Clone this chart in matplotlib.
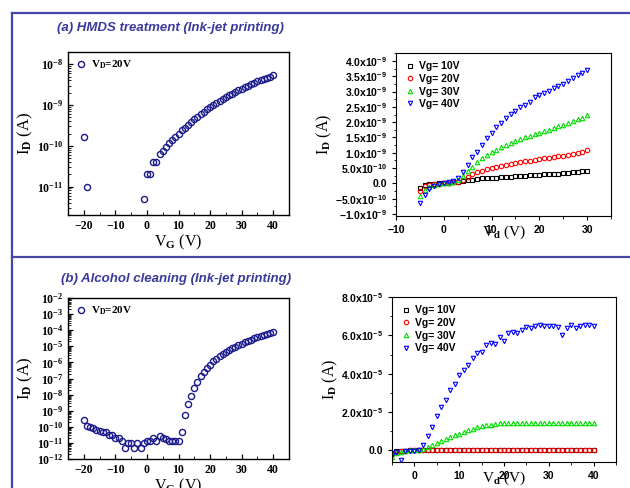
import numpy as np
import matplotlib
matplotlib.use("Agg")
import matplotlib.pyplot as plt
from matplotlib.lines import Line2D
from matplotlib.ticker import FuncFormatter, MultipleLocator, LogLocator, NullFormatter

plt.rcParams['font.family'] = ['Liberation Serif', 'DejaVu Serif']
plt.rcParams['font.weight'] = 'bold'
plt.rcParams['mathtext.fontset'] = 'custom'
plt.rcParams['mathtext.rm'] = 'Liberation Serif:bold'
plt.rcParams['mathtext.bf'] = 'Liberation Serif:bold'
plt.rcParams['mathtext.it'] = 'Liberation Serif:bold'
plt.rcParams['mathtext.sf'] = 'Liberation Sans:bold'

# ---- (a) HMDS treatment: transfer curve, VD = 20 V
vg_a = [-20, -19, -1, 0, 1, 2, 3, 4, 5, 6, 7, 8, 9, 10, 11, 12, 13, 14, 15, 16, 17, 18, 19,
        20, 21, 22, 23, 24, 25, 26, 27, 28, 29, 30, 31, 32, 33, 34, 35, 36, 37, 38, 39, 40]
id_a = [1.6e-10, 1.0e-11, 5.0e-12, 2.0e-11, 2.0e-11, 4.0e-11, 4.0e-11,
        6.2e-11, 7.6e-11, 9.3e-11, 1.15e-10, 1.38e-10, 1.66e-10, 2.0e-10, 2.4e-10, 2.8e-10,
        3.3e-10, 3.9e-10, 4.6e-10, 5.2e-10, 6.0e-10, 6.9e-10, 7.9e-10, 8.9e-10, 1.0e-9,
        1.12e-9, 1.26e-9, 1.41e-9, 1.58e-9, 1.74e-9, 1.9e-9, 2.09e-9, 2.29e-9, 2.5e-9,
        2.75e-9, 3.0e-9, 3.3e-9, 3.55e-9, 3.8e-9, 4.07e-9, 4.37e-9, 4.68e-9, 5.0e-9, 5.4e-9]

# ---- (a) HMDS treatment: output curves (units 1e-10 A)
vd_a = list(range(-5, 31))
out_a_10 = [-1.6, -0.5, -0.2, -0.1, 0.0, 0.1, 0.2, 0.3, 0.5, 0.8, 1.0, 1.2, 1.4, 1.6, 1.7, 1.8,
            1.9, 2.0, 2.1, 2.2, 2.3, 2.4, 2.5, 2.6, 2.7, 2.8, 2.9, 3.0, 3.1, 3.2, 3.35, 3.5,
            3.6, 3.75, 3.9, 4.1]
out_a_20 = [-2.4, -1.0, -0.4, -0.2, -0.1, 0.0, 0.1, 0.3, 0.6, 1.2, 2.2, 3.0, 3.7, 4.2, 4.7, 5.1,
            5.5, 5.8, 6.1, 6.4, 6.7, 6.9, 7.2, 7.4, 7.7, 7.9, 8.2, 8.4, 8.6, 8.8, 9.0, 9.3,
            9.5, 9.8, 10.1, 10.8]
out_a_30 = [-4.1, -2.1, -1.1, -0.6, -0.2, 0.0, 0.2, 0.5, 1.2, 2.3, 3.9, 5.5, 7.0, 8.2, 9.3, 10.2,
            11.0, 11.8, 12.5, 13.2, 13.9, 14.5, 15.1, 15.6, 16.1, 16.6, 17.1, 17.6, 18.1, 18.6,
            19.1, 19.7, 20.3, 20.9, 21.5, 22.3]
out_a_40 = [-6.5, -3.8, -2.0, -0.8, -0.3, 0.0, 0.3, 0.7, 1.6, 3.6, 6.1, 8.5, 10.4, 12.6, 14.8,
            16.5, 18.3, 19.8, 21.2, 22.6, 23.8, 24.8, 25.7, 26.6, 28.2, 29.0, 29.6, 30.3, 31.1,
            31.7, 32.5, 33.6, 34.4, 35.3, 36.2, 37.0]

# ---- (b) Alcohol cleaning: transfer curve, VD = 20 V
vg_b = list(range(-20, 41))
id_b = [2.5e-10, 1.1e-10, 1.0e-10, 8.0e-11, 6.5e-11, 5.5e-11, 4.5e-11, 4.8e-11, 3.0e-11, 3.2e-11,
        2.0e-11, 2.0e-11, 1.4e-11, 5.0e-12, 1.0e-11, 1.0e-11, 5.0e-12, 1.0e-11, 5.0e-12, 1.0e-11,
        1.4e-11, 1.3e-11, 2.0e-11, 1.4e-11, 2.6e-11, 2.0e-11, 1.8e-11, 1.4e-11, 1.4e-11, 1.4e-11,
        1.4e-11, 4.5e-11, 5.3e-10, 2.6e-9, 8.7e-9, 2.5e-8, 6.0e-8, 1.4e-7, 2.5e-7, 4.5e-7,
        7.4e-7, 1.2e-6, 1.7e-6, 2.5e-6, 3.5e-6, 4.7e-6, 5.9e-6, 7.6e-6, 9.5e-6, 1.17e-5,
        1.48e-5, 1.78e-5, 2.19e-5, 2.63e-5, 3.16e-5, 3.7e-5, 4.27e-5, 4.9e-5, 5.75e-5, 6.6e-5,
        7.9e-5]

# ---- (b) Alcohol cleaning: output curves (units 1e-5 A)
vd_b = list(range(-5, 41))
out_b_10 = [-0.15, -0.05, -0.02, -0.01, 0.0, 0.0, 0.0, 0.0, 0.0, 0.0, 0.0, 0.0, 0.0, 0.0, 0.0,
            0.0, 0.0, 0.0, 0.0, 0.0, 0.0, 0.0, 0.0, 0.0, 0.0, 0.0, 0.0, 0.0, 0.0, 0.0, 0.0, 0.0,
            0.0, 0.0, 0.0, 0.0, 0.0, 0.0, 0.0, 0.0, 0.0, 0.0, 0.0, 0.0, 0.0, 0.0]
out_b_20 = [-0.2, -0.08, -0.04, -0.02, 0.0, 0.01, 0.02, 0.03, 0.04, 0.04, 0.04, 0.05, 0.05, 0.05,
            0.05, 0.05, 0.05, 0.05, 0.05, 0.05, 0.05, 0.05, 0.05, 0.05, 0.05, 0.05, 0.05, 0.05,
            0.05, 0.05, 0.05, 0.05, 0.05, 0.05, 0.05, 0.05, 0.05, 0.05, 0.05, 0.05, 0.05, 0.05,
            0.05, 0.05, 0.05, 0.05]
out_b_30 = [-0.35, -0.15, -0.08, -0.03, 0.0, 0.02, 0.05, 0.1, 0.18, 0.27, 0.37, 0.47, 0.58, 0.68,
            0.79, 0.88, 0.97, 1.05, 1.13, 1.2, 1.26, 1.31, 1.35, 1.38, 1.41, 1.42, 1.43, 1.44,
            1.45, 1.45, 1.45, 1.45, 1.45, 1.45, 1.45, 1.45, 1.45, 1.45, 1.45, 1.45, 1.44, 1.44,
            1.44, 1.44, 1.43, 1.43]
out_b_40 = [-0.25, -0.1, -0.5, -0.05, -0.05, -0.02, 0.05, 0.3, 0.77, 1.2, 1.8, 2.25, 2.65, 3.15,
            3.45, 3.95, 4.2, 4.45, 4.8, 5.1, 5.15, 5.5, 5.6, 5.55, 5.9, 5.7, 6.1, 6.2, 6.1, 6.3,
            6.45, 6.4, 6.5, 6.55, 6.5, 6.5, 6.5, 6.45, 6.0, 6.4, 6.55, 6.4, 6.5, 6.55, 6.55, 6.5]

vg_labels = ['Vg= 10V', 'Vg= 20V', 'Vg= 30V', 'Vg= 40V']
out_styles = [('s', 'black'), ('o', 'red'), ('^', '#00dd00'), ('v', 'blue')]

navy = '#1a1a8c'
frame_col = '#4646a6'
title_col = '#3a3a9c'
sans = 'Liberation Sans'

fig = plt.figure(figsize=(6.3, 4.88), dpi=100)
W, H = 630, 488


def px_axes(l, t, r, b):
    return fig.add_axes([l / W, 1 - b / H, (r - l) / W, (b - t) / H])


def log_label(v, pos):
    return r'$\mathbf{10^{%d}}$' % int(round(np.log10(v)))


def sci_label(v, pos):
    if abs(v) < 1e-20:
        return '0.0'
    e = int(np.floor(np.log10(abs(v)) + 1e-9))
    m = v / 10 ** e
    return r'$\mathsf{%.1fx10^{%d}}$' % (m, e)


def transfer(ax, vg, ids, ylim):
    ax.plot(vg, ids, 'o', mfc='none', mec=navy, ms=4.4, mew=1.0, label='V$_{\\mathbf{D}}$=20V')
    ax.set_yscale('log')
    ax.set_xlim(-25, 45)
    ax.set_ylim(*ylim)
    ax.xaxis.set_major_locator(MultipleLocator(10))
    ax.xaxis.set_minor_locator(MultipleLocator(5))
    ax.yaxis.set_major_locator(LogLocator(base=10, numticks=20))
    ax.yaxis.set_minor_locator(LogLocator(base=10, subs=np.arange(2, 10), numticks=20))
    ax.yaxis.set_major_formatter(FuncFormatter(log_label))
    ax.yaxis.set_minor_formatter(NullFormatter())
    ax.tick_params(which='both', direction='in', labelsize=8.5)
    ax.tick_params(which='major', length=3.5, width=0.9)
    ax.tick_params(which='minor', length=2, width=0.6)
    for lbl in ax.get_xticklabels():
        lbl.set_fontweight('bold')
    for s in ax.spines.values():
        s.set_linewidth(1.0)
    ax.set_ylabel('I$_{\\mathbf{D}}$ (A)', fontsize=12, labelpad=1)
    ax.set_xlabel('V$_{\\mathbf{G}}$ (V)', fontsize=11.5, labelpad=1)
    ax.legend(loc='upper left', frameon=False, fontsize=8, handletextpad=0.3,
              borderaxespad=0.2, handlelength=1.2)


def output(ax, vd, series, scale, xlim, ylim, ymajor, yminor, xmajor):
    for ys, lbl, (m, c) in zip(series, vg_labels, out_styles):
        ax.plot(vd, np.array(ys) * scale, m, mfc='none', mec=c, ms=3.2, mew=0.8, label=lbl)
    ax.set_xlim(*xlim)
    ax.set_ylim(*ylim)
    ax.xaxis.set_major_locator(MultipleLocator(xmajor))
    ax.xaxis.set_minor_locator(MultipleLocator(xmajor / 2))
    ax.yaxis.set_major_locator(MultipleLocator(ymajor))
    ax.yaxis.set_minor_locator(MultipleLocator(yminor))
    ax.yaxis.set_major_formatter(FuncFormatter(sci_label))
    ax.tick_params(which='both', direction='out', labelsize=7.5)
    ax.tick_params(which='major', length=3, width=0.8)
    ax.tick_params(which='minor', length=1.8, width=0.6)
    for lbl in ax.get_xticklabels() + ax.get_yticklabels():
        lbl.set_family(sans)
        lbl.set_fontweight('bold')
    for s in ax.spines.values():
        s.set_linewidth(0.8)
    ax.set_ylabel('I$_{\\mathbf{D}}$ (A)', fontsize=11.5, labelpad=1)
    # the reference draws the axis title right over the tick numbers
    ax.set_xlabel('V$_{\\mathbf{d}}$ (V)', fontsize=11, labelpad=-8)
    ax.legend(loc='upper left', frameon=False, handletextpad=0.4, borderaxespad=0.4,
              handlelength=1.0, labelspacing=0.25,
              prop={'family': sans, 'weight': 'bold', 'size': 7.5})


ax1 = px_axes(68, 52, 289, 215)
transfer(ax1, vg_a, id_a, (2e-12, 2e-8))

ax2 = px_axes(396, 53, 611, 215.5)
output(ax2, vd_a, [out_a_10, out_a_20, out_a_30, out_a_40], 1e-10,
       (-10, 35), (-1.05e-9, 4.26e-9), 0.5e-9, 0.25e-9, 10)

ax3 = px_axes(68, 298, 289, 459)
transfer(ax3, vg_b, id_b, (1e-12, 1e-2))

ax4 = px_axes(392, 297, 616, 462)
output(ax4, vd_b, [out_b_10, out_b_20, out_b_30, out_b_40], 1e-5,
       (-5, 45), (-0.6e-5, 8e-5), 2e-5, 1e-5, 10)

# blue frame lines
for xs, ys in [([12, 630], [13, 13]), ([12, 12], [13, 488]), ([12, 630], [257, 257])]:
    fig.add_artist(Line2D([x / W for x in xs], [1 - y / H for y in ys],
                          transform=fig.transFigure, color=frame_col, lw=1.6))

fig.text(170 / W, 1 - 28 / H, '(a) HMDS treatment (Ink-jet printing)', ha='center', va='center',
         family=sans, style='italic', weight='bold', fontsize=9.5, color=title_col)
fig.text(176 / W, 1 - 279 / H, '(b) Alcohol cleaning (Ink-jet printing)', ha='center', va='center',
         family=sans, style='italic', weight='bold', fontsize=9.5, color=title_col)

fig.savefig('out.png', dpi=100)
